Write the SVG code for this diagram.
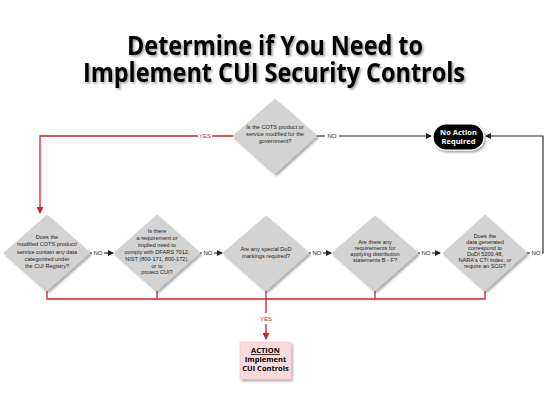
<svg xmlns="http://www.w3.org/2000/svg" width="550" height="412" viewBox="0 0 550 412">
<style>
.title{font-family:"Open Sans","Liberation Sans",sans-serif;font-weight:bold;font-size:26px;fill:#000;text-anchor:middle}
.dt{font-family:"Liberation Sans",Arial,sans-serif;font-size:5.6px;fill:#222;text-anchor:middle}
.lbl{font-family:"Liberation Sans",Arial,sans-serif;font-size:6px;text-anchor:middle}
.red{stroke:#c8252c;stroke-width:1.3;fill:none}
.blk{stroke:#222;stroke-width:1.1;fill:none}
.dia{fill:#d3d3d3;stroke:#bdbdbd;stroke-width:0.5}
.bt{font-family:"Open Sans","Liberation Sans",sans-serif;font-weight:bold;font-size:7.5px;text-anchor:middle}
</style>
<defs>
<filter id="sh" x="-20%" y="-20%" width="150%" height="150%"><feDropShadow dx="1.5" dy="2" stdDeviation="1.2" flood-color="#000" flood-opacity="0.35"/></filter>
<filter id="tsh" x="-10%" y="-20%" width="120%" height="150%"><feDropShadow dx="1.5" dy="1.5" stdDeviation="1" flood-color="#000" flood-opacity="0.4"/></filter>
<marker id="ab" markerWidth="6" markerHeight="6" refX="5" refY="3" orient="auto" markerUnits="userSpaceOnUse"><path d="M0,0 L6,3 L0,6 Z" fill="#222"/></marker>
<marker id="ar" markerWidth="7" markerHeight="7" refX="6" refY="3.5" orient="auto" markerUnits="userSpaceOnUse"><path d="M0,0 L7,3.5 L0,7 Z" fill="#c8252c"/></marker>
</defs>
<rect width="550" height="412" fill="#fff"/>
<g id="title" filter="url(#tsh)">
<text class="title" x="275" y="55" textLength="296" lengthAdjust="spacingAndGlyphs">Determine if You Need to</text>
<text class="title" x="274" y="82" textLength="382" lengthAdjust="spacingAndGlyphs">Implement CUI Security Controls</text>
</g>
<g id="connectors">
<path class="red" d="M233,136 H212 M198,136 H40 V213" marker-end="url(#ar)"/>
<text class="lbl" x="205" y="138" fill="#c8252c">YES</text>
<path class="blk" d="M317,136 H325"/>
<text class="lbl" x="332" y="138" fill="#222">NO</text>
<path class="blk" d="M339,136 H431" marker-end="url(#ab)"/>
<path class="blk" d="M527,253 H530"/>
<text class="lbl" x="536" y="255" fill="#222">NO</text>
<path class="blk" d="M542,253 H543 V136 H486" marker-end="url(#ab)"/>
<path class="blk" d="M90,253 H92"/><text class="lbl" x="98" y="255" fill="#222">NO</text><path class="blk" d="M104,253 H113" marker-end="url(#ab)"/>
<path class="blk" d="M200,253 H202"/><text class="lbl" x="208" y="255" fill="#222">NO</text><path class="blk" d="M214,253 H222" marker-end="url(#ab)"/>
<path class="blk" d="M309,253 H311"/><text class="lbl" x="317" y="255" fill="#222">NO</text><path class="blk" d="M323,253 H331" marker-end="url(#ab)"/>
<path class="blk" d="M418,253 H420"/><text class="lbl" x="426" y="255" fill="#222">NO</text><path class="blk" d="M432,253 H440" marker-end="url(#ab)"/>
<path class="red" d="M47,291 V299 H485 V291 M157,291 V299 M266,291 V299 M375,291 V299"/>
<path class="red" d="M266,299 V313 M266,324 V339" marker-end="url(#ar)"/>
<text class="lbl" x="266" y="321" fill="#c8252c" font-size="5.5">YES</text>
</g>
<g id="q0">
<polygon class="dia" filter="url(#sh)" points="275,99 317,136 275,174 233,136"/>
<text class="dt" x="275" y="129">Is the COTS product or</text>
<text class="dt" x="275" y="136">service modified for the</text>
<text class="dt" x="275" y="143">government?</text>
</g>
<g id="q1">
<polygon class="dia" filter="url(#sh)" points="47,215 90,253 47,291 4,253"/>
<text class="dt" x="47" y="239">Does the</text>
<text class="dt" x="47" y="246.3">modified COTS product/</text>
<text class="dt" x="47" y="253.6">service contain any data</text>
<text class="dt" x="47" y="260.9">categorized under</text>
<text class="dt" x="47" y="268.2">the CUI Registry?</text>
</g>
<g id="q2">
<polygon class="dia" filter="url(#sh)" points="157,215 200,253 157,291 114,253"/>
<text class="dt" x="157" y="233">Is there</text>
<text class="dt" x="157" y="239.5">a requirement or</text>
<text class="dt" x="157" y="246.5">implied need to</text>
<text class="dt" x="157" y="253.5">comply with DFARS 7012,</text>
<text class="dt" x="157" y="260.5">NIST (800-171, 800-172),</text>
<text class="dt" x="157" y="267.5">or to</text>
<text class="dt" x="157" y="274">protect CUI?</text>
</g>
<g id="q3">
<polygon class="dia" filter="url(#sh)" points="266,216 309,253 266,291 223,253"/>
<text class="dt" x="266" y="251">Are any special DoD</text>
<text class="dt" x="266" y="258">markings required?</text>
</g>
<g id="q4">
<polygon class="dia" filter="url(#sh)" points="375,216 418,253 375,291 332,253"/>
<text class="dt" x="375" y="243.5">Are there any</text>
<text class="dt" x="375" y="249.5">requirements for</text>
<text class="dt" x="375" y="255.5">applying distribution</text>
<text class="dt" x="375" y="261.5">statements B - F?</text>
</g>
<g id="q5">
<polygon class="dia" filter="url(#sh)" points="485,215 527,253 485,291 443,253"/>
<text class="dt" x="485" y="238">Does the</text>
<text class="dt" x="485" y="244">data generated</text>
<text class="dt" x="485" y="250">correspond to</text>
<text class="dt" x="485" y="256">DoDI 5200.48,</text>
<text class="dt" x="485" y="262">NARA's CTI index, or</text>
<text class="dt" x="485" y="268">require an SCG?</text>
</g>
<g id="noaction">
<rect x="433" y="124" width="51" height="26" rx="13" fill="#000" stroke="#fff" stroke-width="1.2" filter="url(#sh)"/>
<text class="bt" x="458.5" y="135" fill="#fff">No Action</text>
<text class="bt" x="458.5" y="144" fill="#fff">Required</text>
</g>
<g id="action">
<rect x="240" y="342" width="51" height="37" fill="#fcd9da" stroke="#f0b8b8" stroke-width="0.5" filter="url(#sh)"/>
<text class="bt" x="265.5" y="353" fill="#000" text-decoration="underline">ACTION</text>
<text class="bt" x="265.5" y="362" fill="#000">Implement</text>
<text class="bt" x="265.5" y="371" fill="#000">CUI Controls</text>
</g>
</svg>
